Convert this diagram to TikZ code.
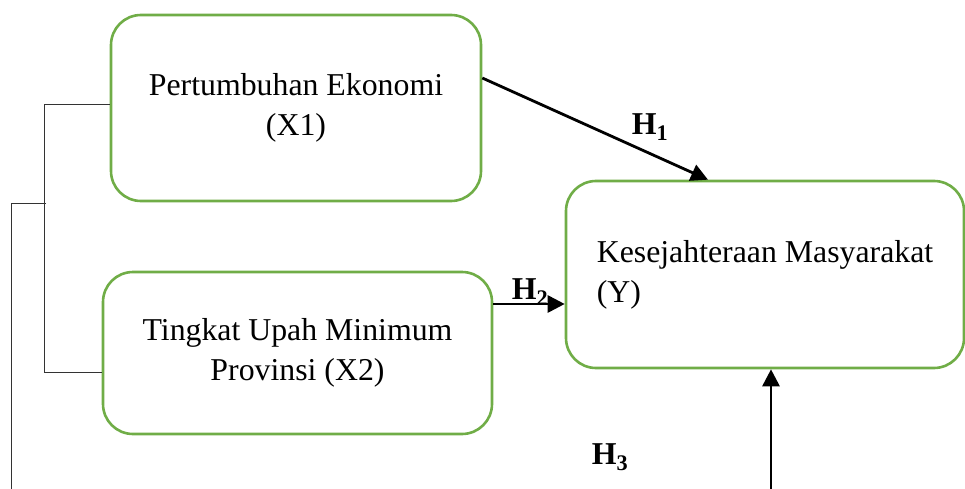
\documentclass[tikz,border=0pt]{standalone}
\usepackage{fontspec}
\setmainfont{Liberation Serif}
\usetikzlibrary{arrows.meta}
\definecolor{boxgreen}{HTML}{70AD47}
\tikzstyle{box3}=[draw=boxgreen,line width=2.6pt,rounded corners=30pt,align=center,font=\fontsize{31.8}{40}\selectfont]

\begin{document}
\begin{tikzpicture}[x=1pt,y=-1pt]

\tikzstyle{box2}=[box3,minimum width=370pt,minimum height=186pt]
\tikzstyle{arrow}=[-{Triangle[length=17pt,width=17pt]},line width=2.8pt]
\tikzstyle{hlabel}=[font=\fontsize{31.8}{40}\selectfont\bfseries]
\tikzstyle{bracket}=[line width=1pt,black!80]

\useasboundingbox (0,0) rectangle (965,489);

\node (X1) [box2] at (296,108)                  {Pertumbuhan Ekonomi\\(X1)};

\node (X2) [box2, minimum width=389pt, minimum height=162pt] at (297.5,353)
                                               {Tingkat Upah Minimum\\Provinsi (X2)};

\node (Y) [box2, minimum width=398pt, minimum height=187pt, align=left] at (765,274.5)
                                               {Kesejahteraan Masyarakat\\(Y)};

\coordinate (J) at (46,203);
\coordinate (Base) at (11,489);
\coordinate (H3start) at (771,489);

% bracket on the left
\draw [bracket] ([yshift=3pt]X1.west) -- ++(-65,0) |- ([yshift=-19pt]X2.west);
\draw [bracket] (J) -| (Base);

\draw [arrow] ([yshift=30pt]X1.east) -- ([xshift=-57pt]Y.north);
\draw [arrow] ([yshift=49pt]X2.east) -- ([yshift=-29.5pt]Y.west);
\draw [arrow] (H3start) -- (H3start |- Y.south);

\node (H1) [hlabel] at (650,127) {H\textsubscript{1}};
\node (H2) [hlabel] at (530,292) {H\textsubscript{2}};
\node (H3) [hlabel] at (610,457) {H\textsubscript{3}};

\end{tikzpicture}
\end{document}
